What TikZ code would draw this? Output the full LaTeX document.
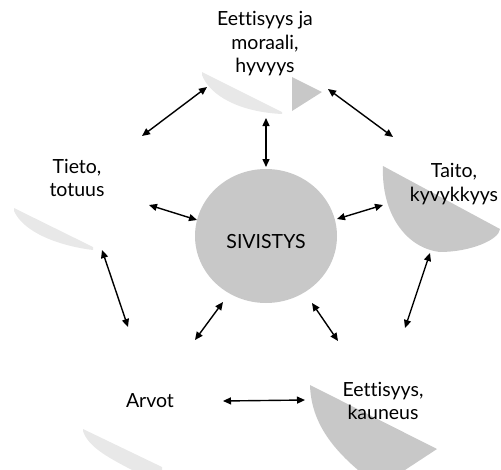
\documentclass[tikz,border=0pt]{standalone}
\usepackage{fontspec}
\setmainfont{Lato}[Ligatures={NoCommon,NoDiscretionary,NoRare}]
\usetikzlibrary{arrows.meta,shapes.geometric}
\definecolor{densegray}{RGB}{200,200,200}
\definecolor{sparsegray}{RGB}{232,232,232}

\begin{document}
\begin{tikzpicture}[x=1pt,y=-1pt,
  link/.style={{Triangle[length=8pt,width=7pt]}-{Triangle[length=8pt,width=7pt]}, line width=1.4pt},
  topic/.style={align=center, font=\fontsize{19.5}{23.5}\selectfont, inner sep=0pt},
  dense/.style={fill=densegray},
  sparse/.style={fill=sparsegray}]
\useasboundingbox (0,0) rectangle (501,469);

% shaded backdrops of the outer topics
\begin{scope}
  \clip (0,0) rectangle (501,469);
  \fill[sparse] (202,72) -- (282,112) -- (282,114) .. controls (240,112) and (210,96) .. (202,75) -- cycle;
  \fill[dense] (292,77) -- (322,92) -- (292,111) -- cycle;
  \fill[sparse] (14,208) -- (93,247) -- (93,250) .. controls (60,246) and (24,233) .. (14,211) -- cycle;
  \fill[sparse] (83,429) -- (162,467) -- (162,470) -- (132,470) .. controls (105,456) and (88,446) .. (83,431) -- cycle;
  \fill[dense] (383,166) -- (500,229) .. controls (499,240) and (470,252) .. (440,252) .. controls (405,248) and (381,212) .. (383,166) -- cycle;
  \fill[dense] (310,385) -- (437,449) -- (405,470) -- (358,470) .. controls (330,446) and (311,420) .. (310,385) -- cycle;
\end{scope}

% central hub
\node[ellipse, dense, minimum width=142pt, minimum height=134pt, inner sep=0pt] (hub) at (266,236) {};
\node[topic] (siv) at (266,242) {SIVISTYS};

% topic labels
\node[topic] (moral) at (265,44) {Eettisyys ja\\moraali,\\hyvyys};
\node[topic] (tieto) at (77,178) {Tieto,\\totuus};
\node[topic] (taito) at (454,184) {Taito,\\kyvykkyys};
\node[topic] (arvot) at (150,401) {Arvot};
\node[topic] (kaun) at (383,401) {Eettisyys,\\kauneus};

% arrow end points
\coordinate (m-s) at (266,118);  \coordinate (h-n) at (266,167);
\coordinate (t-ne) at (142,136); \coordinate (m-sw) at (207,87);
\coordinate (m-se) at (328,89);  \coordinate (k-nw) at (393,137);
\coordinate (t-e) at (149,205);  \coordinate (h-w) at (197,220);
\coordinate (h-e) at (337,219);  \coordinate (k-w) at (383,205);
\coordinate (t-s) at (102,250);  \coordinate (a-n) at (128,327);
\coordinate (k-s) at (430,253);  \coordinate (e-n) at (405,328);
\coordinate (h-sw) at (223,302); \coordinate (a-ne) at (195,340);
\coordinate (h-se) at (312,303); \coordinate (e-nw) at (338,341);
\coordinate (a-e) at (223,401);  \coordinate (e-w) at (305,400);

\draw[link] (m-s) -- (h-n);
\draw[link] (t-ne) -- (m-sw);
\draw[link] (m-se) -- (k-nw);
\draw[link] (t-e) -- (h-w);
\draw[link] (h-e) -- (k-w);
\draw[link] (t-s) -- (a-n);
\draw[link] (k-s) -- (e-n);
\draw[link] (h-sw) -- (a-ne);
\draw[link] (h-se) -- (e-nw);
\draw[link] (a-e) -- (e-w);
\end{tikzpicture}
\end{document}
